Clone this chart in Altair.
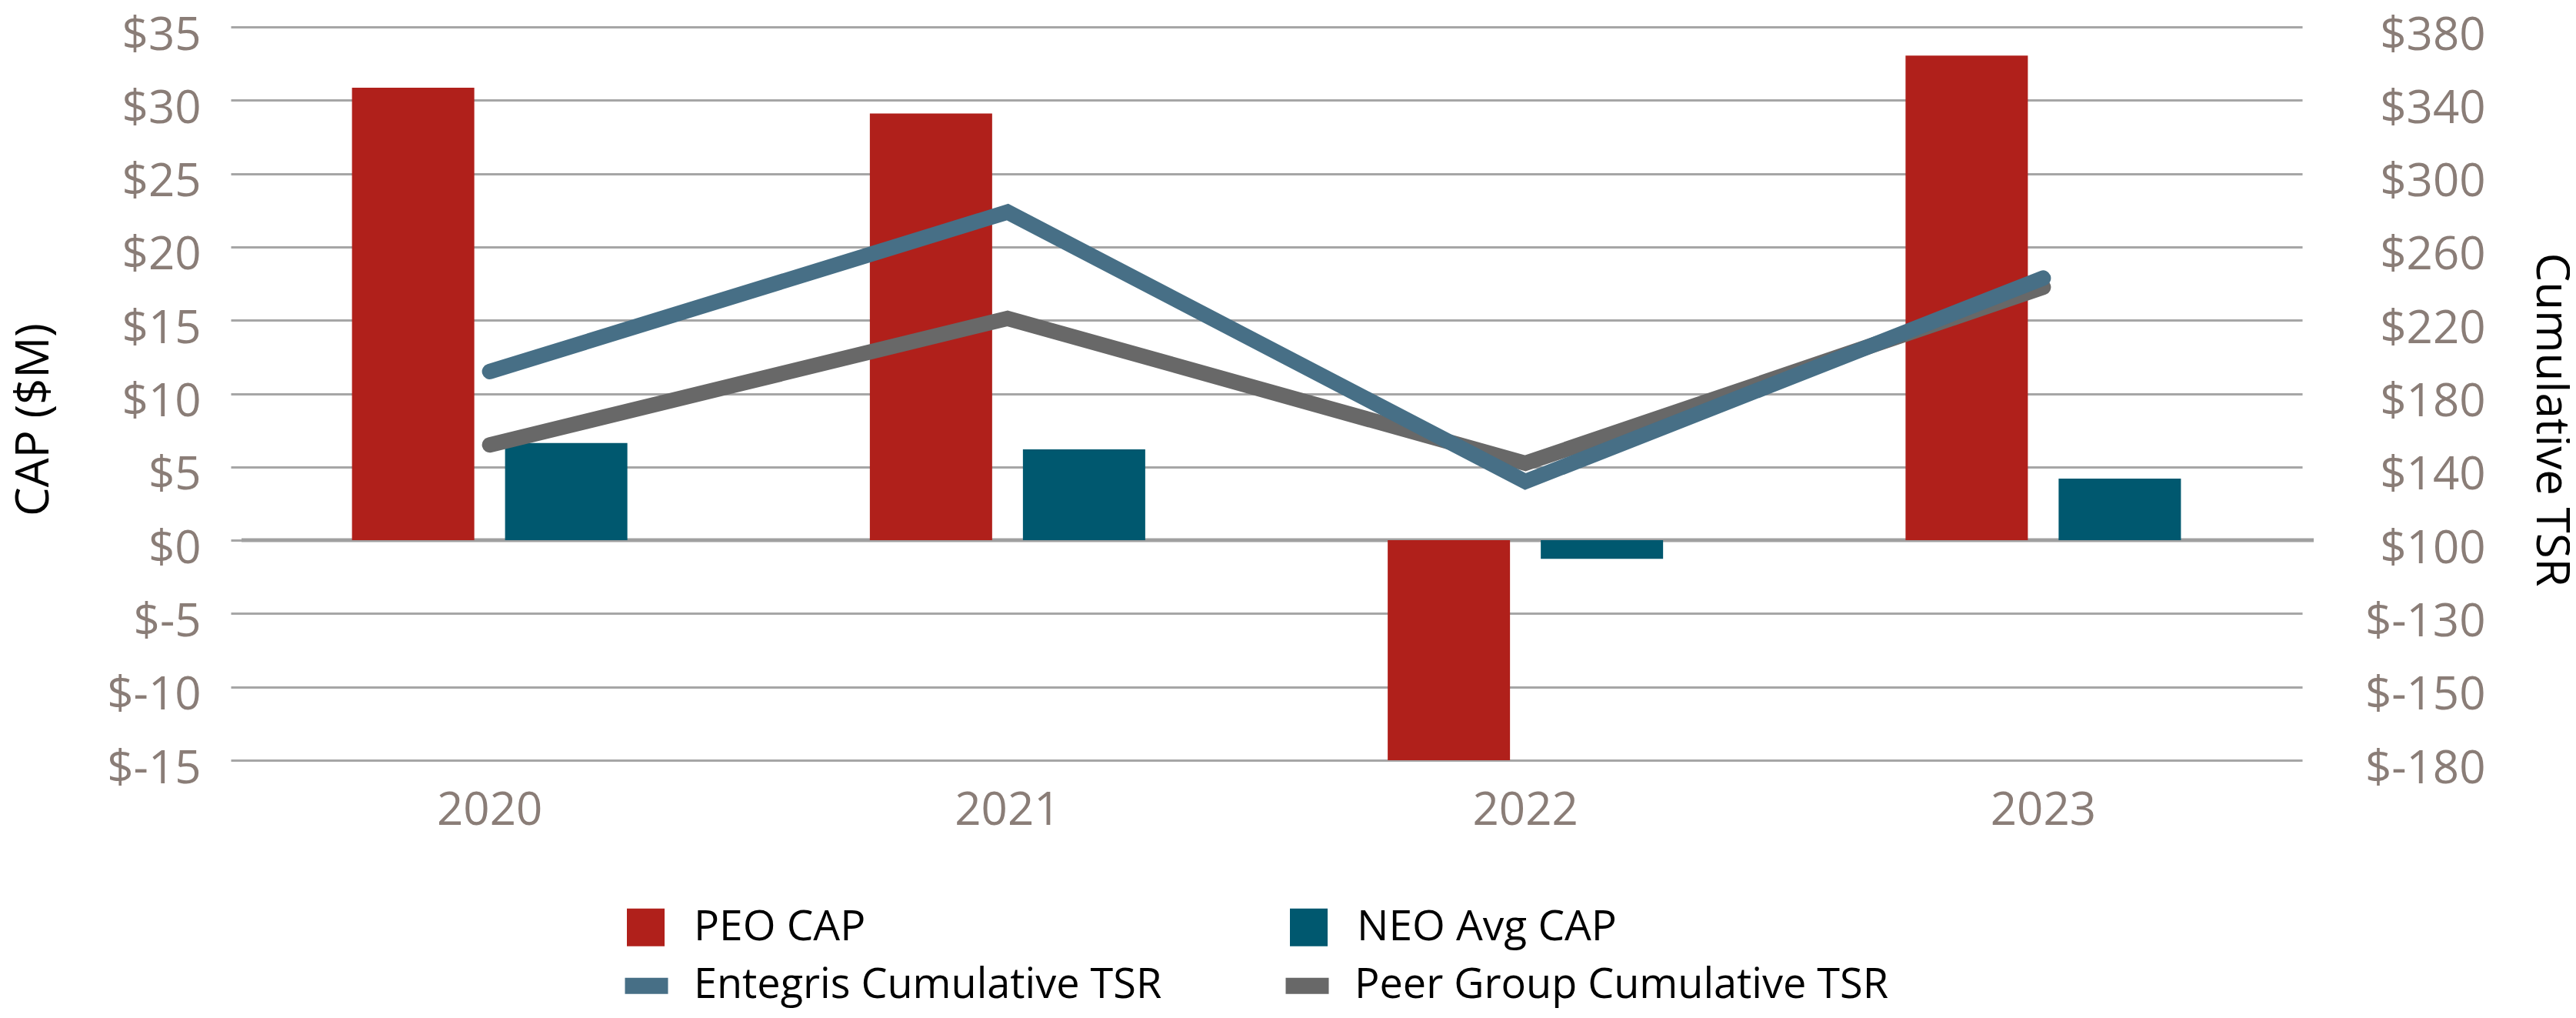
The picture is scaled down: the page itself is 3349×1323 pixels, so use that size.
import altair as alt
import pandas as pd

# ---------------- data ----------------
years = ["2020", "2021", "2022", "2023"]
peo_cap = [30.85, 29.1, -15.0, 33.05]          # $M
neo_avg_cap = [6.63, 6.2, -1.27, 4.2]          # $M
entegris_tsr = [192, 279, 132, 243]
peer_tsr = [152, 221, 142, 238]

bar_series = ["PEO CAP", "NEO Avg CAP"]
bar_colors = ["#b0201b", "#00586f"]
line_series = ["Entegris Cumulative TSR", "Peer Group Cumulative TSR"]
line_colors = ["#476f86", "#686868"]

left_ticks = [-15, -10, -5, 0, 5, 10, 15, 20, 25, 30, 35]
right_tick_values = [-20, 20, 60, 100, 140, 180, 220, 260, 300, 340, 380]
right_tick_labels = ["$-180", "$-150", "$-130", "$100", "$140", "$180",
                     "$220", "$260", "$300", "$340", "$380"]

# ---------------- tables ----------------
bars = pd.DataFrame(
    [{"year": y, "series": bar_series[0], "value": v} for y, v in zip(years, peo_cap)]
    + [{"year": y, "series": bar_series[1], "value": v} for y, v in zip(years, neo_avg_cap)]
)
ent = pd.DataFrame({"year": years, "series": line_series[0], "tsr": entegris_tsr})
peer = pd.DataFrame({"year": years, "series": line_series[1], "tsr": peer_tsr})
zero = pd.DataFrame({"y": [0]})

FONT = "Open Sans"
LABEL_COLOR = "#8a7d77"
GRID_COLOR = "#a6a6a6"

W, H = 2694, 953
left_scale = alt.Scale(domain=[-15, 35], nice=False, zero=False)
right_scale = alt.Scale(domain=[-20, 380], nice=False, zero=False)

x_enc = alt.X(
    "year:N",
    sort=years,
    scale=alt.Scale(domain=years, range=[-14, W - 15], paddingInner=0, paddingOuter=0),
    axis=alt.Axis(
        title=None, ticks=False, domain=False, grid=False, labelAngle=0,
        labelColor=LABEL_COLOR, labelFontSize=60, labelFont=FONT, labelPadding=36,
    ),
)

right_expr = " : ".join(
    f"datum.value == {v} ? '{l}'" for v, l in zip(right_tick_values, right_tick_labels)
) + " : ''"

zero_rule = alt.Chart(zero).mark_rule(color="#a0a0a0", strokeWidth=5).encode(
    y=alt.Y("y:Q", scale=left_scale, axis=None)
)

bar_layer = alt.Chart(bars).mark_bar().encode(
    x=x_enc,
    xOffset=alt.XOffset(
        "series:N", sort=bar_series,
        scale=alt.Scale(domain=bar_series, paddingInner=0.201, paddingOuter=0.792),
    ),
    y=alt.Y(
        "value:Q", scale=left_scale,
        axis=alt.Axis(
            orient="left", values=left_ticks, labelExpr="'$' + datum.value",
            title="CAP ($M)", titleFont=FONT, titleFontSize=60, titleFontWeight="normal",
            titleColor="#000000", titleAngle=-90, titleAlign="center", titleBaseline="middle",
            titleX=-270, titleY=510,
            labelColor=LABEL_COLOR, labelFontSize=60, labelFont=FONT, labelPadding=53,
            labelOffset=11,
            ticks=False, tickSize=0, domain=False,
            grid=True, gridColor=GRID_COLOR, gridWidth=3,
        ),
    ),
    fill=alt.Fill(
        "series:N",
        scale=alt.Scale(domain=bar_series, range=bar_colors),
        legend=alt.Legend(
            title=None, orient="none", legendX=498, legendY=1142.5, columns=2,
            direction="horizontal", symbolType="square", symbolSize=49 * 49,
            symbolStrokeWidth=0, labelFont=FONT, labelFontSize=55, labelColor="#000000",
            labelOffset=35, columnPadding=548, padding=0, labelLimit=1000,
        ),
    ),
)

line_legend = alt.Legend(
    title=None, orient="none", legendX=488, legendY=1207.5, columns=2,
    direction="horizontal", symbolType="stroke", symbolSize=56 * 56,
    symbolStrokeWidth=21, labelFont=FONT, labelFontSize=54, labelColor="#000000",
    labelOffset=23, columnPadding=118, padding=0, labelLimit=1000,
)

peer_layer = alt.Chart(peer).mark_line(strokeWidth=20, strokeCap="round", strokeJoin="miter").encode(
    x=x_enc,
    y=alt.Y("tsr:Q", scale=right_scale, axis=None),
    stroke=alt.Stroke("series:N", scale=alt.Scale(domain=line_series, range=line_colors),
                      legend=line_legend),
)

ent_layer = alt.Chart(ent).mark_line(strokeWidth=20, strokeCap="round", strokeJoin="miter").encode(
    x=x_enc,
    y=alt.Y(
        "tsr:Q", scale=right_scale,
        axis=alt.Axis(
            orient="right", values=right_tick_values, labelExpr=right_expr,
            title="Cumulative TSR", titleFont=FONT, titleFontSize=60, titleFontWeight="normal",
            titleColor="#000000", titleAngle=90, titleAlign="center", titleBaseline="middle",
            titleX=307, titleY=510,
            labelColor=LABEL_COLOR, labelFontSize=60, labelFont=FONT, labelPadding=223,
            labelOffset=11,
            labelAlign="right", ticks=False, tickSize=0, domain=False, grid=False,
        ),
    ),
    stroke=alt.Stroke("series:N", scale=alt.Scale(domain=line_series, range=line_colors),
                      legend=line_legend),
)

chart = (
    alt.layer(zero_rule, bar_layer, peer_layer, ent_layer)
    .resolve_scale(y="independent")
    .properties(
        width=W, height=H,
        autosize=alt.AutoSizeParams(type="none"),
        padding={"left": 306, "top": 27, "right": 333, "bottom": 325},
        background="#ffffff",
    )
    .configure_view(stroke=None)
)

chart.save("out.html", embed_options={"renderer": "svg", "actions": False})
